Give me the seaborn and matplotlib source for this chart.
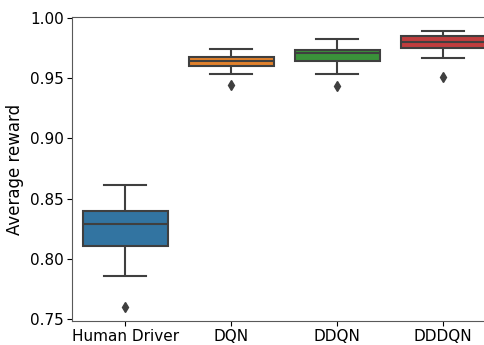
import pandas as pd
import matplotlib
matplotlib.use("Agg")
import matplotlib.pyplot as plt
import seaborn as sns

# values (9 samples per agent, quartiles fall on samples)
categories = ["Human Driver", "DQN", "DDQN", "DDDQN"]
human_driver = [0.760, 0.786, 0.811, 0.820, 0.829, 0.835, 0.840, 0.850, 0.861]
dqn = [0.9445, 0.9534, 0.9605, 0.9625, 0.9644, 0.9660, 0.9680, 0.9710, 0.9746]
ddqn = [0.9437, 0.9539, 0.9644, 0.9680, 0.9708, 0.9720, 0.9733, 0.9770, 0.9824]
dddqn = [0.9512, 0.9669, 0.9749, 0.9775, 0.9798, 0.9825, 0.9848, 0.9870, 0.9892]

rows = []
for name, vals in zip(categories, [human_driver, dqn, ddqn, dddqn]):
    for v in vals:
        rows.append({"agent": name, "reward": v})
df = pd.DataFrame(rows)

fig = plt.figure(figsize=(4.84, 3.45), dpi=100)
ax = fig.add_axes([0.149, 0.07, 0.876, 0.88])

line_col = "#3f3f3f"
sns.boxplot(data=df, x="agent", y="reward", hue="agent", order=categories,
            palette=["#1f77b4", "#ff7f0e", "#2ca02c", "#d62728"], saturation=0.75,
            width=0.8, linewidth=1.5, legend=False, ax=ax,
            flierprops=dict(marker="d", markerfacecolor=line_col,
                            markeredgecolor=line_col, markersize=5.5),
            boxprops=dict(edgecolor=line_col),
            whiskerprops=dict(color=line_col), capprops=dict(color=line_col),
            medianprops=dict(color=line_col))

ax.set_xlabel("")
ax.set_ylabel("Average reward", fontsize=12)
ax.tick_params(axis="both", labelsize=11, pad=2.5)
for sp in ax.spines.values():
    sp.set_color("0.35")

plt.savefig("out.png", dpi=100)
plt.close()
